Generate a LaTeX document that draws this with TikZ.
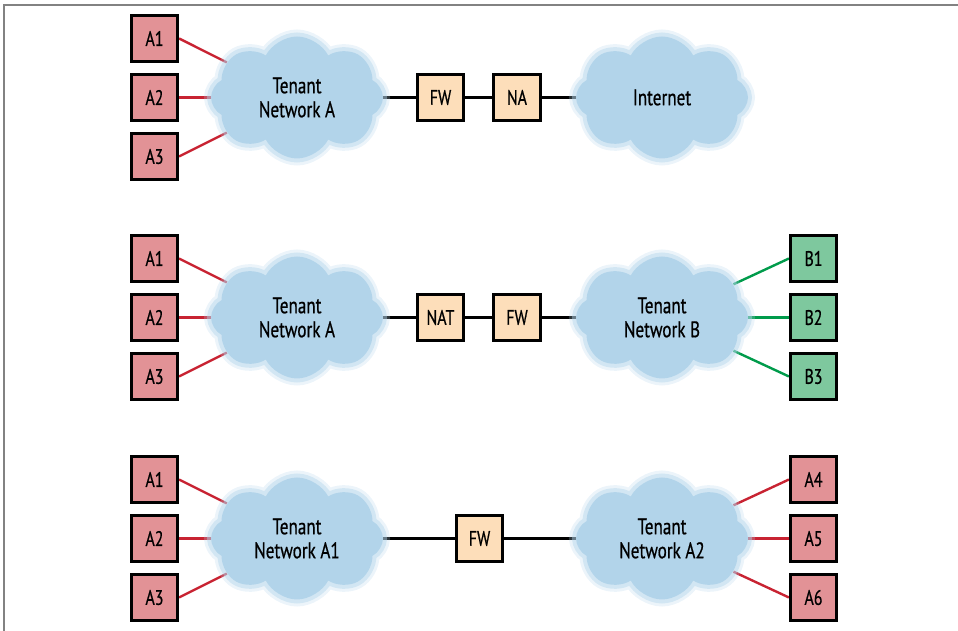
\documentclass[tikz,border=0pt]{standalone}
\usepackage{fontspec}
\setmainfont[FakeStretch=0.76, FakeBold=0.6]{PT Sans}
\usetikzlibrary{positioning,shapes.symbols,backgrounds}
\definecolor{hostred}{RGB}{226,146,150}
\definecolor{hostgreen}{RGB}{126,200,158}
\definecolor{devorange}{RGB}{253,222,186}
\definecolor{cloudblue}{RGB}{178,212,234}
\definecolor{linkred}{RGB}{200,35,50}
\definecolor{linkgreen}{RGB}{0,155,75}
\definecolor{framegray}{RGB}{130,130,130}

\begin{document}
\begin{tikzpicture}[x=1pt, y=1pt,
  host/.style={draw, line width=2.6pt, fill=hostred, minimum size=46.5pt, inner sep=0pt, font=\fontsize{21}{24}\selectfont},
  hostb/.style={host, fill=hostgreen},
  dev/.style={host, fill=devorange},
  net/.style={cloud, cloud puffs=8, cloud puff arc=125, cloud ignores aspect, minimum width=172pt, minimum height=122pt,
    fill=cloudblue, preaction={draw=cloudblue, draw opacity=0.25, line width=14pt},
    preaction={draw=cloudblue, draw opacity=0.45, line width=8pt},
    align=center, font=\fontsize{22.5}{24}\selectfont},
  link/.style={line width=2.4pt, black},
  rlink/.style={link, linkred},
  glink/.style={link, linkgreen}]
\useasboundingbox (0,0) rectangle (958,631);
\draw[framegray, line width=2pt] (4,0) -- (4,625.5) -- (958,625.5);
% row 1: tenant network to internet
\node[net] (ta1) at (297,533.5) {Tenant\\Network A};
\node[host] (a12) at (154.5,533.5) {A2};
\node[host, above=9.9pt of a12] (a11) {A1};
\node[host, below=9.9pt of a12] (a13) {A3};
\node[dev] (fw1) at (440.5,533.5) {FW};
\node[dev, right=27.4pt of fw1] (na1) {NA};
\node[net] (inet) at (662,533.5) {Internet};
% row 2: tenant A to tenant B
\node[net] (ta2) at (297,313.5) {Tenant\\Network A};
\node[host] (a22) at (154.5,313.5) {A2};
\node[host, above=9.9pt of a22] (a21) {A1};
\node[host, below=9.9pt of a22] (a23) {A3};
\node[dev] (nat2) at (440.5,313.5) {NAT};
\node[dev, right=27.4pt of nat2] (fw2) {FW};
\node[net] (tb2) at (662,313.5) {Tenant\\Network B};
\node[hostb] (b2) at (813.5,313.5) {B2};
\node[hostb, above=9.9pt of b2] (b1) {B1};
\node[hostb, below=9.9pt of b2] (b3) {B3};
% row 3: tenant A1 to tenant A2
\node[net] (ta3) at (297,92.5) {Tenant\\Network A1};
\node[host] (a32) at (154.5,92.5) {A2};
\node[host, above=9.9pt of a32] (a31) {A1};
\node[host, below=9.9pt of a32] (a33) {A3};
\node[dev] (fw3) at (479.5,92.5) {FW};
\node[net] (tc3) at (662,92.5) {Tenant\\Network A2};
\node[host] (a35) at (813.5,92.5) {A5};
\node[host, above=9.9pt of a35] (a34) {A4};
\node[host, below=9.9pt of a35] (a36) {A6};
\begin{scope}[on background layer]
\draw[rlink] (a11.east) -- (ta1);
\draw[rlink] (a12.east) -- (ta1);
\draw[rlink] (a13.east) -- (ta1);
\draw[link] (ta1) -- (fw1);
\draw[link] (fw1) -- (na1);
\draw[link] (na1) -- (inet);
\draw[rlink] (a21.east) -- (ta2);
\draw[rlink] (a22.east) -- (ta2);
\draw[rlink] (a23.east) -- (ta2);
\draw[link] (ta2) -- (nat2);
\draw[link] (nat2) -- (fw2);
\draw[link] (fw2) -- (tb2);
\draw[glink] (b1.west) -- (tb2);
\draw[glink] (b2.west) -- (tb2);
\draw[glink] (b3.west) -- (tb2);
\draw[rlink] (a31.east) -- (ta3);
\draw[rlink] (a32.east) -- (ta3);
\draw[rlink] (a33.east) -- (ta3);
\draw[link] (ta3) -- (fw3);
\draw[link] (fw3) -- (tc3);
\draw[rlink] (a34.west) -- (tc3);
\draw[rlink] (a35.west) -- (tc3);
\draw[rlink] (a36.west) -- (tc3);
\end{scope}
\end{tikzpicture}
\end{document}
